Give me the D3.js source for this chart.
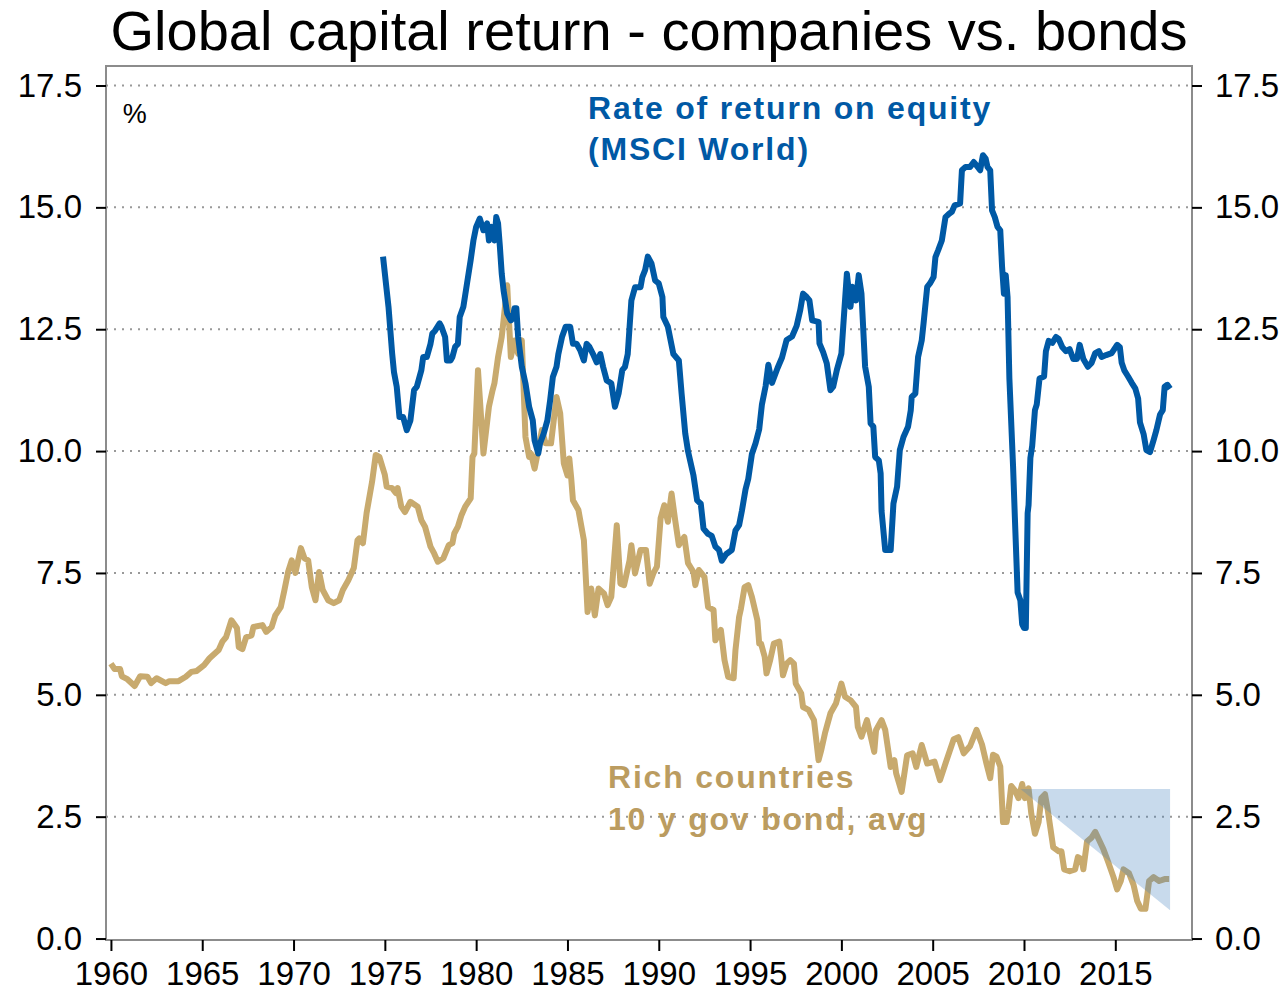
<!DOCTYPE html>
<html>
<head>
<meta charset="utf-8">
<script src="https://cdn.jsdelivr.net/npm/d3@7"></script>
<style>
  body { margin: 0; background: #fff; }
  svg { display: block; font-family: "Liberation Sans", Arial, sans-serif; }
</style>
</head>
<body>
<div id="chart"></div>
<script>
// chart values: [year, percent]
var equityData = [
  [1974.9,13.99],[1975.2,12.96],[1975.4,12.0],[1975.5,11.62],[1975.65,11.32],[1975.8,10.70],[1976.0,10.70],
  [1976.2,10.43],[1976.4,10.63],[1976.6,11.25],[1976.75,11.32],[1977.0,11.66],[1977.1,11.93],[1977.3,11.93],
  [1977.5,12.20],[1977.6,12.41],[1977.75,12.47],[1978.0,12.62],[1978.1,12.55],[1978.3,12.34],[1978.4,11.86],
  [1978.6,11.86],[1978.7,11.93],[1978.85,12.14],[1979.0,12.20],[1979.1,12.75],[1979.3,12.96],[1979.5,13.44],
  [1979.7,13.92],[1979.85,14.32],[1980.0,14.60],[1980.2,14.77],[1980.4,14.53],[1980.6,14.67],[1980.7,14.32],
  [1980.85,14.60],[1981.0,14.32],[1981.1,14.80],[1981.2,14.67],[1981.3,14.19],[1981.4,13.64],[1981.5,13.30],
  [1981.7,12.82],[1981.9,12.68],[1982.0,12.72],[1982.1,12.93],[1982.2,12.93],[1982.3,12.34],[1982.5,11.73],
  [1982.7,11.39],[1982.9,10.91],[1983.1,10.63],[1983.2,10.22],[1983.4,9.95],[1983.5,10.16],[1983.7,10.36],
  [1983.9,10.63],[1984.05,11.04],[1984.2,11.52],[1984.4,11.73],[1984.5,11.99],[1984.7,12.34],[1984.9,12.55],
  [1985.15,12.55],[1985.3,12.20],[1985.5,12.20],[1985.7,12.07],[1985.9,11.86],[1986.05,12.20],[1986.2,12.14],
  [1986.4,11.99],[1986.6,11.82],[1986.8,11.99],[1986.95,11.73],[1987.15,11.45],[1987.4,11.39],[1987.6,10.91],
  [1987.8,11.18],[1988.0,11.66],[1988.15,11.73],[1988.3,11.99],[1988.5,13.09],[1988.7,13.36],[1989.0,13.36],
  [1989.1,13.57],[1989.25,13.71],[1989.4,13.99],[1989.6,13.85],[1989.8,13.50],[1990.0,13.44],[1990.2,13.16],
  [1990.25,12.75],[1990.5,12.55],[1990.8,11.99],[1991.1,11.86],[1991.25,11.18],[1991.45,10.36],[1991.6,10.0],
  [1991.9,9.5],[1992.1,8.99],[1992.3,8.92],[1992.45,8.41],[1992.7,8.30],[1992.9,8.26],[1993.1,8.04],
  [1993.3,7.97],[1993.45,7.75],[1993.7,7.89],[1994.0,7.97],[1994.2,8.37],[1994.4,8.48],[1994.55,8.77],
  [1994.75,9.21],[1994.9,9.43],[1995.1,9.94],[1995.3,10.16],[1995.5,10.45],[1995.65,10.96],[1995.85,11.33],
  [1996.0,11.77],[1996.2,11.40],[1996.5,11.70],[1996.75,11.92],[1997.0,12.28],[1997.3,12.35],[1997.55,12.57],
  [1997.75,12.9],[1997.9,13.23],[1998.1,13.16],[1998.25,13.09],[1998.4,12.68],[1998.75,12.65],[1998.8,12.21],
  [1999.0,12.03],[1999.2,11.80],[1999.4,11.25],[1999.55,11.32],[1999.75,11.66],[2000.0,12.0],[2000.1,12.55],
  [2000.3,13.64],[2000.5,12.96],[2000.6,13.37],[2000.8,13.09],[2000.95,13.61],[2001.1,13.23],[2001.3,11.73],
  [2001.5,11.32],[2001.6,10.57],[2001.75,10.50],[2001.85,9.88],[2002.05,9.81],[2002.15,9.54],[2002.2,8.77],
  [2002.4,7.97],[2002.7,7.97],[2002.85,8.92],[2003.05,9.27],[2003.2,10.02],[2003.4,10.29],[2003.65,10.50],
  [2003.8,10.84],[2003.85,11.11],[2004.05,11.18],[2004.2,11.93],[2004.4,12.27],[2004.5,12.62],[2004.7,13.37],
  [2004.85,13.44],[2005.05,13.57],[2005.15,13.98],[2005.3,14.12],[2005.5,14.32],[2005.7,14.80],[2005.9,14.87],
  [2006.05,14.91],[2006.2,15.04],[2006.5,15.08],[2006.6,15.76],[2006.8,15.83],[2007.05,15.83],[2007.25,15.93],
  [2007.4,15.86],[2007.6,15.76],[2007.75,16.07],[2007.9,16.0],[2008.0,15.83],[2008.15,15.76],[2008.25,14.94],
  [2008.4,14.80],[2008.55,14.60],[2008.7,14.53],[2008.8,13.78],[2008.9,13.23],[2009.0,13.61],[2009.1,13.16],
  [2009.2,11.49],[2009.4,9.70],[2009.5,8.64],[2009.65,7.10],[2009.8,6.94],[2009.9,6.45],[2010.0,6.37],
  [2010.1,6.37],[2010.2,8.73],[2010.25,8.89],[2010.35,9.86],[2010.45,10.11],[2010.6,10.84],[2010.7,10.96],
  [2010.85,11.49],[2011.1,11.53],[2011.2,12.05],[2011.35,12.26],[2011.55,12.22],[2011.75,12.34],[2011.9,12.30],
  [2012.1,12.13],[2012.3,12.05],[2012.5,12.09],[2012.7,11.89],[2012.9,11.89],[2013.05,12.18],[2013.25,11.89],
  [2013.5,11.73],[2013.7,11.81],[2013.9,12.01],[2014.1,12.05],[2014.25,11.93],[2014.5,11.97],[2014.8,12.01],
  [2015.1,12.18],[2015.25,12.13],[2015.35,11.81],[2015.5,11.65],[2015.7,11.53],[2015.9,11.40],[2016.1,11.28],
  [2016.25,11.08],[2016.35,10.59],[2016.55,10.35],[2016.7,10.02],[2016.9,9.98],[2017.1,10.23],[2017.25,10.43],
  [2017.45,10.75],[2017.6,10.84],[2017.7,11.32],[2017.85,11.36],[2018.0,11.28]
];

var bondData = [
  [1960.0,5.64],[1960.2,5.53],[1960.5,5.53],[1960.6,5.38],[1960.9,5.32],[1961.3,5.18],[1961.6,5.38],
  [1962.0,5.37],[1962.2,5.24],[1962.5,5.34],[1963.0,5.24],[1963.2,5.28],[1963.7,5.28],[1964.1,5.37],
  [1964.4,5.47],[1964.7,5.49],[1965.1,5.61],[1965.4,5.75],[1965.9,5.92],[1966.1,6.09],[1966.3,6.18],
  [1966.6,6.53],[1966.9,6.37],[1967.0,5.98],[1967.2,5.94],[1967.4,6.18],[1967.7,6.22],[1967.8,6.39],
  [1968.3,6.43],[1968.5,6.29],[1968.8,6.39],[1969.0,6.63],[1969.3,6.80],[1969.5,7.15],[1969.7,7.52],
  [1969.9,7.76],[1970.1,7.50],[1970.4,8.01],[1970.6,7.80],[1970.8,7.76],[1971.0,7.21],[1971.2,6.94],
  [1971.4,7.52],[1971.6,7.15],[1971.9,6.94],[1972.2,6.88],[1972.5,6.94],[1972.7,7.15],[1973.0,7.35],
  [1973.3,7.60],[1973.5,8.17],[1973.6,8.21],[1973.8,8.11],[1974.0,8.73],[1974.3,9.37],[1974.5,9.92],
  [1974.7,9.88],[1975.0,9.51],[1975.1,9.27],[1975.4,9.24],[1975.6,9.14],[1975.7,9.24],[1975.9,8.86],
  [1976.1,8.75],[1976.4,8.96],[1976.8,8.86],[1977.0,8.58],[1977.2,8.45],[1977.5,8.04],[1977.7,7.90],
  [1977.9,7.73],[1978.2,7.80],[1978.5,8.07],[1978.7,8.11],[1978.8,8.31],[1979.0,8.45],[1979.2,8.69],
  [1979.4,8.86],[1979.7,9.03],[1979.8,9.88],[1979.9,9.95],[1980.1,11.66],[1980.4,9.95],[1980.7,10.91],
  [1980.9,11.25],[1981.0,11.39],[1981.2,11.93],[1981.4,12.34],[1981.5,12.68],[1981.7,13.40],[1981.9,11.93],
  [1982.1,12.27],[1982.3,12.00],[1982.5,12.27],[1982.7,10.29],[1982.9,9.88],[1983.0,9.95],[1983.2,9.64],
  [1983.4,10.02],[1983.6,10.43],[1983.8,10.16],[1984.1,10.16],[1984.4,11.11],[1984.6,10.78],[1984.8,9.75],
  [1985.0,9.5],[1985.1,9.85],[1985.2,9.47],[1985.3,8.99],[1985.6,8.79],[1985.9,8.17],[1986.1,6.70],
  [1986.3,7.18],[1986.5,6.63],[1986.7,7.18],[1987.0,7.08],[1987.2,6.84],[1987.4,7.01],[1987.7,8.48],
  [1987.9,7.28],[1988.1,7.25],[1988.4,7.76],[1988.5,8.07],[1988.7,7.49],[1989.0,7.97],[1989.3,7.97],
  [1989.5,7.28],[1989.7,7.49],[1989.9,7.63],[1990.1,8.62],[1990.3,8.89],[1990.5,8.55],[1990.7,9.13],
  [1990.9,8.58],[1991.1,8.07],[1991.4,8.24],[1991.6,7.70],[1991.9,7.52],[1992.0,7.25],[1992.2,7.56],
  [1992.5,7.42],[1992.7,6.80],[1993.0,6.74],[1993.1,6.12],[1993.4,6.33],[1993.6,5.71],[1993.8,5.37],
  [1994.1,5.34],[1994.2,5.92],[1994.4,6.60],[1994.5,6.77],[1994.7,7.21],[1994.9,7.25],[1995.1,7.01],
  [1995.4,6.53],[1995.5,6.05],[1995.6,6.05],[1995.8,5.78],[1995.9,5.44],[1996.1,5.71],[1996.3,6.05],
  [1996.6,6.09],[1996.7,5.78],[1996.8,5.40],[1997.0,5.64],[1997.2,5.71],[1997.4,5.64],[1997.5,5.23],
  [1997.8,5.03],[1997.9,4.75],[1998.2,4.69],[1998.5,4.48],[1998.75,3.66],[1998.9,3.87],[1999.1,4.21],
  [1999.4,4.62],[1999.7,4.82],[2000.0,5.23],[2000.2,4.96],[2000.5,4.89],[2000.8,4.75],[2000.9,4.34],
  [2001.1,4.14],[2001.4,4.48],[2001.8,3.83],[2001.9,4.28],[2002.2,4.48],[2002.4,4.28],[2002.7,3.52],
  [2002.9,3.66],[2003.0,3.39],[2003.3,3.01],[2003.6,3.76],[2003.9,3.80],[2004.1,3.52],[2004.4,3.97],
  [2004.7,3.59],[2005.1,3.63],[2005.4,3.25],[2005.7,3.59],[2006.15,4.09],[2006.4,4.13],[2006.7,3.80],
  [2007.05,3.95],[2007.4,4.28],[2007.7,3.98],[2007.95,3.58],[2008.15,3.29],[2008.3,3.77],[2008.5,3.73],
  [2008.7,3.53],[2008.85,2.39],[2009.05,2.39],[2009.15,2.64],[2009.3,3.13],[2009.5,3.04],[2009.7,2.88],
  [2009.9,3.17],[2010.05,2.88],[2010.25,3.08],[2010.4,2.56],[2010.6,2.15],[2010.8,2.39],[2010.95,2.88],
  [2011.15,2.96],[2011.3,2.64],[2011.6,1.87],[2011.9,1.79],[2012.05,1.79],[2012.2,1.42],[2012.5,1.38],
  [2012.8,1.42],[2012.95,1.67],[2013.15,1.63],[2013.25,1.42],[2013.45,1.99],[2013.7,2.07],[2013.9,2.19],
  [2014.1,2.03],[2014.35,1.83],[2014.6,1.58],[2014.9,1.26],[2015.1,1.01],[2015.3,1.18],[2015.45,1.42],
  [2015.75,1.34],[2016.0,1.10],[2016.2,0.77],[2016.4,0.61],[2016.65,0.61],[2016.85,1.18],[2017.1,1.26],
  [2017.4,1.18],[2017.7,1.22],[2017.95,1.22]
];

// shaded wedge (year, percent)
var shadeCorners = [[2009.8,3.07],[2018.0,3.07],[2018.0,0.58]];

var yTicks = [0, 2.5, 5, 7.5, 10, 12.5, 15, 17.5];
var xTicks = [1960, 1965, 1970, 1975, 1980, 1985, 1990, 1995, 2000, 2005, 2010, 2015];

var titleText = "Global capital return - companies vs. bonds";
var equityLabel = ["Rate of return on equity", "(MSCI World)"];
var bondLabel = ["Rich countries", "10 y gov bond, avg"];

var blue = "#0059a5", gold = "#c8aa6e", goldText = "#bb9c60";

var W = 1288, H = 997;
var margin = { top: 66, right: W - 1192, bottom: H - 940, left: 106 },
  width = W - margin.left - margin.right,
  height = H - margin.top - margin.bottom;

var svg = d3.select("#chart").append("svg")
  .attr("width", W)
  .attr("height", H);

svg.append("text")
  .attr("x", 649)
  .attr("y", 50)
  .attr("text-anchor", "middle")
  .style("font-size", "56px")
  .attr("fill", "#000")
  .text(titleText);

var g = svg.append("g")
  .attr("transform", "translate(" + margin.left + "," + margin.top + ")");

var x = d3.scaleLinear().domain([1959.73, 2019.2]).range([0, width]);
var y = d3.scaleLinear().domain([-0.03, 17.9]).range([height, 0]);

// dotted grid
g.selectAll(".grid")
  .data(yTicks.filter(function (d) { return d > 0; }))
  .enter().append("line")
  .attr("x1", 0).attr("x2", width)
  .attr("y1", function (d) { return y(d); })
  .attr("y2", function (d) { return y(d); })
  .attr("stroke", "#999")
  .attr("stroke-width", 2)
  .attr("stroke-dasharray", "2,6");

// frame
g.append("rect")
  .attr("width", width).attr("height", height)
  .attr("fill", "none")
  .attr("stroke", "#8c8c8c")
  .attr("stroke-width", 2);

var fmt = d3.format(".1f");

function styleAxis(sel) {
  sel.select(".domain").remove();
  sel.selectAll(".tick line").attr("stroke", "#000").attr("stroke-width", 2);
  sel.selectAll(".tick text").style("font-size", "33px").attr("fill", "#000")
    .style("font-family", "'Liberation Sans', Arial, sans-serif");
}

g.append("g")
  .call(d3.axisLeft(y).tickValues(yTicks).tickFormat(fmt).tickSize(10).tickPadding(14))
  .call(styleAxis);

g.append("g")
  .attr("transform", "translate(" + width + ",0)")
  .call(d3.axisRight(y).tickValues(yTicks).tickFormat(fmt).tickSize(10).tickPadding(13))
  .call(styleAxis);

g.append("g")
  .attr("transform", "translate(0," + height + ")")
  .call(d3.axisBottom(x).tickValues(xTicks).tickFormat(d3.format("d")).tickSize(11).tickPadding(11))
  .call(styleAxis)
  .selectAll(".tick text").attr("dy", "0.71em");

var line = d3.line()
  .x(function (d) { return x(d[0]); })
  .y(function (d) { return y(d[1]); });

g.append("path")
  .datum(bondData)
  .attr("d", line)
  .attr("fill", "none")
  .attr("stroke", gold)
  .attr("stroke-width", 6)
  .attr("stroke-linejoin", "round");

g.append("path")
  .datum(equityData)
  .attr("d", line)
  .attr("fill", "none")
  .attr("stroke", blue)
  .attr("stroke-width", 6)
  .attr("stroke-linejoin", "round");

// translucent wedge on top
g.append("path")
  .datum(shadeCorners)
  .attr("d", function (d) { return line(d) + "Z"; })
  .attr("fill", "#4a86c0")
  .attr("fill-opacity", 0.3);

g.append("text")
  .attr("x", x(1960.65))
  .attr("y", 57)
  .style("font-size", "27px")
  .attr("fill", "#000")
  .text("%");

var eq = g.append("text")
  .attr("fill", blue)
  .style("font-size", "32px")
  .style("font-weight", "bold")
  .style("letter-spacing", "1.8px");
eq.selectAll("tspan").data(equityLabel).enter().append("tspan")
  .attr("x", 482)
  .attr("y", function (d, i) { return 53 + i * 41; })
  .text(function (d) { return d; });

var bd = g.append("text")
  .attr("fill", goldText)
  .style("font-size", "32px")
  .style("font-weight", "bold")
  .style("letter-spacing", "1.8px");
bd.selectAll("tspan").data(bondLabel).enter().append("tspan")
  .attr("x", 502)
  .attr("y", function (d, i) { return 722 + i * 42; })
  .text(function (d) { return d; });
</script>
</body>
</html>
